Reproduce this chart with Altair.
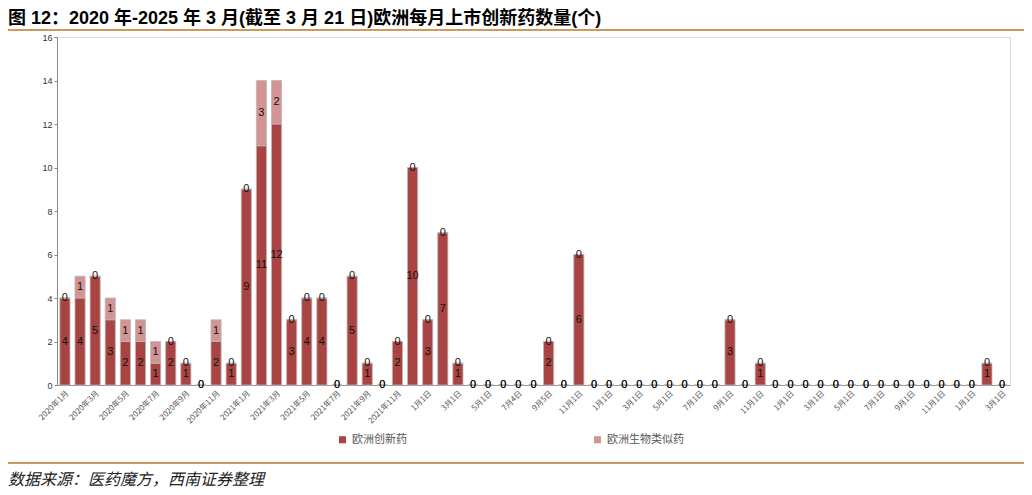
import json
import altair as alt
import pandas as pd

# ---- data -------------------------------------------------------------
tick_labels = [
    "2020年1月", "", "2020年3月", "", "2020年5月", "", "2020年7月", "", "2020年9月", "",
    "2020年11月", "", "2021年1月", "", "2021年3月", "", "2021年5月", "", "2021年7月", "",
    "2021年9月", "", "2021年11月", "", "1月1日", "", "3月1日", "", "5月1日", "",
    "7月4日", "", "9月5日", "", "11月1日", "", "1月1日", "", "3月1日", "",
    "5月1日", "", "7月1日", "", "9月1日", "", "11月1日", "", "1月1日", "",
    "3月1日", "", "5月1日", "", "7月1日", "", "9月1日", "", "11月1日", "",
    "1月1日", "", "3月1日",
]
innovative = [4, 4, 5, 3, 2, 2, 1, 2, 1, 0, 2, 1,
              9, 11, 12, 3, 4, 4, 0, 5, 1, 0, 2, 10,
              3, 7, 1, 0, 0, 0, 0, 0, 2, 0, 6, 0,
              0, 0, 0, 0, 0, 0, 0, 0, 3, 0, 1, 0,
              0, 0, 0, 0, 0, 0, 0, 0, 0, 0, 0, 0,
              0, 1, 0]
biosimilar = [0, 1, 0, 1, 1, 1, 1, 0, 0, 0, 1, 0,
              0, 3, 2, 0, 0, 0, 0, 0, 0, 0, 0, 0,
              0, 0, 0, 0, 0, 0, 0, 0, 0, 0, 0, 0,
              0, 0, 0, 0, 0, 0, 0, 0, 0, 0, 0, 0,
              0, 0, 0, 0, 0, 0, 0, 0, 0, 0, 0, 0,
              0, 0, 0]
series_names = ["欧洲创新药", "欧洲生物类似药"]
series_colors = ["#A94442", "#D49494"]
title_text = "图 12：2020 年-2025 年 3 月(截至 3 月 21 日)欧洲每月上市创新药数量(个)"
source_text = "数据来源：医药魔方，西南证券整理"

rows = []
for i in range(len(innovative)):
    rows.append({"idx": i, "series": series_names[0], "value": innovative[i],
                 "order": 0, "ypos": innovative[i] / 2})
    rows.append({"idx": i, "series": series_names[1], "value": biosimilar[i],
                 "order": 1, "ypos": innovative[i] + biosimilar[i] / 2})
df = pd.DataFrame(rows)

W, H = 953, 348
label_expr = json.dumps(tick_labels, ensure_ascii=False) + "[datum.value]"

xenc = alt.X("idx:O",
             scale=alt.Scale(paddingInner=0.33, paddingOuter=0.19),
             axis=alt.Axis(title=None, labelExpr=label_expr, labelAngle=-45,
                           labelFontSize=8, labelColor="#555", ticks=False,
                           labelOverlap=False, domainColor="#999",
                           labelFont="Noto Sans CJK SC", labelPadding=4))

base = alt.Chart(df)
bars = base.mark_bar(stroke="#b8b8b8", strokeWidth=0.8).encode(
    x=xenc,
    y=alt.Y("value:Q", stack="zero",
            scale=alt.Scale(domain=[0, 16], nice=False),
            axis=alt.Axis(title=None, values=list(range(0, 17, 2)), grid=False,
                          labelFontSize=9, labelColor="#333", tickSize=3,
                          tickColor="#888", domainColor="#888",
                          labelFont="Liberation Sans")),
    color=alt.Color("series:N",
                    scale=alt.Scale(domain=series_names, range=series_colors),
                    legend=alt.Legend(title=None, orient="none", legendX=280,
                                      legendY=397, direction="horizontal",
                                      columnPadding=185, symbolType="square",
                                      symbolSize=50, symbolStrokeWidth=0,
                                      labelFontSize=11, labelColor="#555",
                                      labelFont="Noto Sans CJK SC")),
    order=alt.Order("order:Q"),
)

labels = base.mark_text(fontSize=11, font="Liberation Sans", color="#111",
                        baseline="middle").encode(
    x=alt.X("idx:O"),
    y=alt.Y("ypos:Q"),
    text=alt.Text("value:Q"),
)

title = alt.Chart(pd.DataFrame({"t": [title_text]})).mark_text(
    align="left", baseline="middle", fontSize=18, fontWeight="bold",
    font="Liberation Sans, Noto Sans CJK SC", color="#000").encode(
    x=alt.value(-49), y=alt.value(-18), text="t:N")

source = alt.Chart(pd.DataFrame({"t": [source_text]})).mark_text(
    align="left", baseline="middle", fontSize=16, fontStyle="italic",
    font="Noto Sans CJK SC", color="#222").encode(
    x=alt.value(-49), y=alt.value(443), text="t:N")

rule_top = alt.Chart(pd.DataFrame({"a": [0]})).mark_rule(
    color="#CC9A5E", strokeWidth=2).encode(
    x=alt.value(-49), x2=alt.value(971), y=alt.value(-7))
rule_bot = alt.Chart(pd.DataFrame({"a": [0]})).mark_rule(
    color="#CC9A5E", strokeWidth=2).encode(
    x=alt.value(-49), x2=alt.value(971), y=alt.value(426))

chart = alt.layer(bars, labels, title, source, rule_top, rule_bot).properties(
    width=W, height=H,
    autosize=alt.AutoSizeParams(type="none"),
    padding={"left": 49, "top": 29, "right": 14, "bottom": 110},
).configure_view(stroke=None).configure(background="white")

chart.save("out.html", embed_options={"renderer": "svg", "actions": False})
